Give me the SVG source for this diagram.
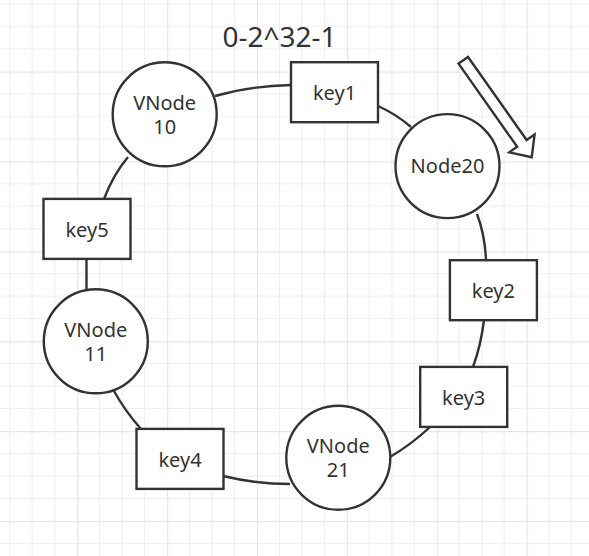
<svg xmlns="http://www.w3.org/2000/svg" width="589" height="556" viewBox="0 0 589 556">
  <defs>
    <pattern id="grid" patternUnits="userSpaceOnUse" x="77.2" y="71.5" width="89.88" height="89.88">
      <path d="M22.47,0V89.88M44.94,0V89.88M67.41,0V89.88M0,22.47H89.88M0,44.94H89.88M0,67.41H89.88" fill="none" stroke="#eeeeee" stroke-width="1.2"/>
      <path d="M0.5,0V89.88M0,0.5H89.88" fill="none" stroke="#e6e6e6" stroke-width="1.4"/>
    </pattern>
    <style>
      .shape { fill: #ffffff; stroke: #333333; stroke-width: 2.4; }
      .conn { fill: none; stroke: #333333; stroke-width: 2.4; }
      .label { font-family: "Noto Sans", "Liberation Sans", sans-serif; font-size: 20px; fill: #333333; text-anchor: middle; }
      .title { font-family: "Noto Sans", "Liberation Sans", sans-serif; font-size: 28px; fill: #333333; text-anchor: middle; }
    </style>
  </defs>
  <rect x="0" y="0" width="589" height="556" fill="#ffffff"/>
  <rect x="0" y="0" width="589" height="556" fill="url(#grid)"/>

  <g id="connectors">
    <path class="conn" d="M215,96 Q250,86 291,85"/>
    <path class="conn" d="M378,106 Q396,114 411,127"/>
    <path class="conn" d="M477,214 Q485,235 486,260"/>
    <path class="conn" d="M484,320 Q481,345 473,367"/>
    <path class="conn" d="M430,427 Q412,444 390,457"/>
    <path class="conn" d="M290,484 Q256,484 223,476"/>
    <path class="conn" d="M141,429 Q125,411 114,391"/>
    <path class="conn" d="M86.5,259 L86.5,290"/>
    <path class="conn" d="M104,199 Q113,175 128,157"/>
  </g>

  <g id="title">
    <text class="title" x="279.5" y="46.5">0-2^32-1</text>
  </g>

  <g id="arrow">
    <polygon class="shape" transform="translate(463.3,60.3) rotate(54.8)" points="0,-5.8 101.7,-5.8 101.7,-15.5 118.7,0 101.7,15.5 101.7,5.8 0,5.8"/>
  </g>

  <g id="key1">
    <rect class="shape" x="291" y="62.2" width="87" height="60"/>
    <text class="label" x="334.5" y="100.2">key1</text>
  </g>
  <g id="key2">
    <rect class="shape" x="449.9" y="260.2" width="87" height="60"/>
    <text class="label" x="493.4" y="298.2">key2</text>
  </g>
  <g id="key3">
    <rect class="shape" x="420.2" y="366.9" width="87" height="60"/>
    <text class="label" x="463.7" y="404.9">key3</text>
  </g>
  <g id="key4">
    <rect class="shape" x="136.5" y="428.9" width="87" height="60"/>
    <text class="label" x="180" y="466.9">key4</text>
  </g>
  <g id="key5">
    <rect class="shape" x="43.5" y="198.9" width="87" height="60"/>
    <text class="label" x="87" y="236.9">key5</text>
  </g>

  <g id="vnode10">
    <circle class="shape" cx="164.7" cy="114.3" r="52"/>
    <text class="label" x="164.7" y="109.8">VNode<tspan x="164.7" dy="24">10</tspan></text>
  </g>
  <g id="node20">
    <circle class="shape" cx="447.5" cy="166.1" r="52"/>
    <text class="label" x="447.5" y="173.4">Node20</text>
  </g>
  <g id="vnode11">
    <circle class="shape" cx="95.8" cy="341.3" r="52"/>
    <text class="label" x="95.8" y="336.8">VNode<tspan x="95.8" dy="24">11</tspan></text>
  </g>
  <g id="vnode21">
    <circle class="shape" cx="338.3" cy="457.8" r="52"/>
    <text class="label" x="338.3" y="453.3">VNode<tspan x="338.3" dy="24">21</tspan></text>
  </g>
</svg>
